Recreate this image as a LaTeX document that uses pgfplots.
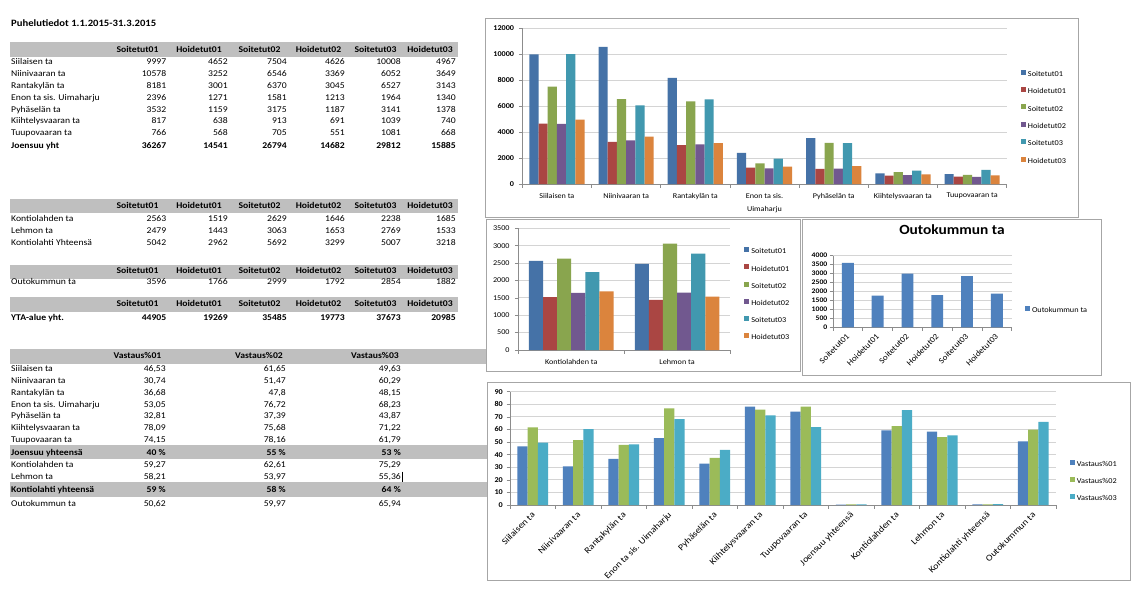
\documentclass[border=0pt]{standalone}
\usepackage{fontspec}
\setmainfont{Carlito}[FakeStretch=1.1]
\usepackage{pgfplots}
\pgfplotsset{compat=1.18}

\definecolor{s1}{HTML}{4572A7}
\definecolor{s2}{HTML}{AA4643}
\definecolor{s3}{HTML}{89A54E}
\definecolor{s4}{HTML}{71588F}
\definecolor{s5}{HTML}{4198AF}
\definecolor{s6}{HTML}{DB843D}
\definecolor{b1}{HTML}{4F81BD}
\definecolor{b2}{HTML}{9BBB59}
\definecolor{b3}{HTML}{4BACC6}
\definecolor{band}{HTML}{BFBFBF}
\definecolor{gridc}{HTML}{D4D4D4}
\definecolor{axc}{HTML}{8C8C8C}
\definecolor{framec}{HTML}{A6A6A6}

\newcommand\fs[2]{\fontsize{#1}{#2}\selectfont}
\newcommand\tfont{\fs{8.8}{10}}
\let\tb\relax

% table helpers (coordinates: x right, y down, in pt)
\newcommand\headsix[1]{%
  \foreach \cx/\tx in {137.5/Soitetut01,199/Hoidetut01,259.5/Soitetut02,318.5/Hoidetut02,375.5/Soitetut03,430/Hoidetut03}
    {\node[anchor=base,inner sep=0pt,font=\bfseries\tfont] at (\cx,#1+2.8) {\tx};}}
\newcommand\rowsix[8]{%
  \node[anchor=base west,inner sep=0pt,font=\tfont] at (11,#1+2.8) {\tb #2};
  \node[anchor=base east,inner sep=0pt,font=\tfont] at (166.5,#1+2.8) {\tb #3};
  \node[anchor=base east,inner sep=0pt,font=\tfont] at (228,#1+2.8) {\tb #4};
  \node[anchor=base east,inner sep=0pt,font=\tfont] at (287,#1+2.8) {\tb #5};
  \node[anchor=base east,inner sep=0pt,font=\tfont] at (345,#1+2.8) {\tb #6};
  \node[anchor=base east,inner sep=0pt,font=\tfont] at (401,#1+2.8) {\tb #7};
  \node[anchor=base east,inner sep=0pt,font=\tfont] at (456,#1+2.8) {\tb #8};}
\newcommand\rowthree[5]{%
  \node[anchor=base west,inner sep=0pt,font=\tfont] at (11,#1+2.8) {\tb #2};
  \node[anchor=base east,inner sep=0pt,font=\tfont] at (166,#1+2.8) {\tb #3};
  \node[anchor=base east,inner sep=0pt,font=\tfont] at (286,#1+2.8) {\tb #4};
  \node[anchor=base east,inner sep=0pt,font=\tfont] at (401,#1+2.8) {\tb #5};}

\pgfplotsset{
  excel/.style={
    scale only axis, anchor=south west, ybar=0pt,
    axis x line*=bottom, axis y line*=left,
    axis line style={draw=axc, line width=0.6pt, -},
    ymajorgrids, grid style={draw=gridc, line width=1pt},
    tick align=outside, major tick length=3.5pt, minor tick length=3.5pt,
    ytick style={draw=axc, line width=0.6pt},
    major x tick style={draw=none},
    minor x tick style={draw=axc, line width=0.6pt},
    scaled y ticks=false,
    /pgf/number format/1000 sep={},
    /pgf/number format/assume math mode=true,
    yticklabel style={inner sep=0pt, font=\bfseries\fs{7.4}{9}, xshift=-4.5pt},
    xticklabel style={inner sep=0pt, font=\fs{7.4}{13.5}, align=center, yshift=-5.5pt},
    legend image code/.code={\fill[##1] (0pt,-0.3pt) rectangle (5pt,4.7pt);},
    legend cell align=left,
    legend style={draw=none, fill=none, inner sep=0pt, outer sep=0pt, anchor=west,
      font=\fs{7.5}{9}, row sep=9.2pt,
      nodes={inner sep=0pt, text height=5.4pt, text depth=1.6pt},
      /tikz/every odd column/.append style={column sep=2pt}},
  }
}

\begin{document}
\begin{tikzpicture}
\begin{scope}[x=1pt,y=-1pt]
\path (0,0) rectangle (1139,594);
\node[anchor=base west,inner sep=0pt,font=\bfseries\fs{9.7}{11}] at (11,27) {Puhelutiedot 1.1.2015-31.3.2015};

% table 1
\fill[band] (10,42.3) rectangle (458,56.7);
\headsix{50}
\rowsix{61.7}{Siilaisen ta}{9997}{4652}{7504}{4626}{10008}{4967}
\rowsix{73.3}{Niinivaaran ta}{10578}{3252}{6546}{3369}{6052}{3649}
\rowsix{85.5}{Rantakylän ta}{8181}{3001}{6370}{3045}{6527}{3143}
\rowsix{97.5}{Enon ta sis. Uimaharju}{2396}{1271}{1581}{1213}{1964}{1340}
\rowsix{109.2}{Pyhäselän ta}{3532}{1159}{3175}{1187}{3141}{1378}
\rowsix{120.8}{Kiihtelysvaaran ta}{817}{638}{913}{691}{1039}{740}
\rowsix{132.7}{Tuupovaaran ta}{766}{568}{705}{551}{1081}{668}
\begingroup\def\tb{\bfseries}
\rowsix{145.5}{Joensuu yht}{36267}{14541}{26794}{14682}{29812}{15885}
\endgroup

% table 2
\fill[band] (10,199.2) rectangle (458,213.3);
\headsix{206}
\rowsix{218.3}{Kontiolahden ta}{2563}{1519}{2629}{1646}{2238}{1685}
\rowsix{230.6}{Lehmon ta}{2479}{1443}{3063}{1653}{2769}{1533}
\rowsix{242.3}{Kontiolahti Yhteensä}{5042}{2962}{5692}{3299}{5007}{3218}

% table 3
\fill[band] (10,265) rectangle (458,279.3);
\headsix{270.8}
\rowsix{281.5}{Outokummun ta}{3596}{1766}{2999}{1792}{2854}{1882}

% table 4
\fill[band] (10,297.3) rectangle (458,311.7);
\headsix{303.8}
\begingroup\def\tb{\bfseries}
\rowsix{317.7}{YTA-alue yht.}{44905}{19269}{35485}{19773}{37673}{20985}
\endgroup

% table 5
\fill[band] (10,349.3) rectangle (487,364);
\foreach \cx/\tx in {137.5/Vastaus\%01,259/Vastaus\%02,375/Vastaus\%03}
  {\node[anchor=base,inner sep=0pt,font=\bfseries\tfont] at (\cx,356+2.8) {\tx};}
\rowthree{368.3}{Siilaisen ta}{46,53}{61,65}{49,63}
\rowthree{380.6}{Niinivaaran ta}{30,74}{51,47}{60,29}
\rowthree{392.3}{Rantakylän ta}{36,68}{47,8}{48,15}
\rowthree{404.3}{Enon ta sis. Uimaharju}{53,05}{76,72}{68,23}
\rowthree{416}{Pyhäselän ta}{32,81}{37,39}{43,87}
\rowthree{428}{Kiihtelysvaaran ta}{78,09}{75,68}{71,22}
\rowthree{439.7}{Tuupovaaran ta}{74,15}{78,16}{61,79}
\fill[band] (10,445) rectangle (487,459.3);
\begingroup\def\tb{\bfseries}
\rowthree{452.5}{Joensuu yhteensä}{40 \%}{55 \%}{53 \%}
\endgroup
\rowthree{465}{Kontiolahden ta}{59,27}{62,61}{75,29}
\rowthree{476.7}{Lehmon ta}{58,21}{53,97}{55,36}
\draw[line width=0.6pt] (402,471.5) -- (402,481.5);
\fill[band] (10,482.3) rectangle (487,496.7);
\begingroup\def\tb{\bfseries}
\rowthree{489.5}{Kontiolahti yhteensä}{59 \%}{58 \%}{64 \%}
\endgroup
\rowthree{503.3}{Outokummun ta}{50,62}{59,97}{65,94}

% chart frames
\filldraw[fill=white, draw=framec, line width=0.8pt] (485,18.3) rectangle (1078.3,217.3);
\filldraw[fill=white, draw=framec, line width=0.8pt] (486.7,219.3) rectangle (800,371.7);
\filldraw[fill=white, draw=framec, line width=0.8pt] (802.7,219.3) rectangle (1101.7,375);
\filldraw[fill=white, draw=framec, line width=0.8pt] (487.3,382.5) rectangle (1130.5,580.7);
\end{scope}

% ---------- top chart ----------
\begin{axis}[excel, at={(522.3pt,-184pt)}, width=484.4pt, height=155.7pt,
  xmin=-0.5, xmax=6.5, ymin=0, ymax=12000, ytick={0,2000,...,12000},
  xtick={0,...,6}, minor xtick={-0.5,0.5,...,6.5},
  xticklabels={Siilaisen ta, Niinivaaran ta, Rantakylän ta, {Enon ta sis.\\Uimaharju}, Pyhäselän ta, Kiihtelysvaaran ta, Tuupovaaran ta},
  bar width=9.2pt,
  legend style={at={(1.0295,0.429)}}]
\addplot[fill=s1, draw=none] coordinates {(0,9997) (1,10578) (2,8181) (3,2396) (4,3532) (5,817) (6,766)};
\addplot[fill=s2, draw=none] coordinates {(0,4652) (1,3252) (2,3001) (3,1271) (4,1159) (5,638) (6,568)};
\addplot[fill=s3, draw=none] coordinates {(0,7504) (1,6546) (2,6370) (3,1581) (4,3175) (5,913) (6,705)};
\addplot[fill=s4, draw=none] coordinates {(0,4626) (1,3369) (2,3045) (3,1213) (4,1187) (5,691) (6,551)};
\addplot[fill=s5, draw=none] coordinates {(0,10008) (1,6052) (2,6527) (3,1964) (4,3141) (5,1039) (6,1081)};
\addplot[fill=s6, draw=none] coordinates {(0,4967) (1,3649) (2,3143) (3,1340) (4,1378) (5,740) (6,668)};
\legend{Soitetut01,Hoidetut01,Soitetut02,Hoidetut02,Soitetut03,Hoidetut03}
\end{axis}

% ---------- Kontiolahti chart ----------
\begin{axis}[excel, at={(518.3pt,-350pt)}, width=211.7pt, height=121.7pt,
  xmin=-0.5, xmax=1.5, ymin=0, ymax=3500, ytick={0,500,...,3500},
  yticklabel style={font=\fs{7.4}{9}, xshift=-0.5pt},
  xticklabel style={yshift=-0.5pt},
  xtick={0,1}, minor xtick={-0.5,0.5,1.5},
  xticklabels={Kontiolahden ta, Lehmon ta},
  bar width=14.1pt,
  legend style={at={(1.0676,0.4577)}, row sep=9pt}]
\addplot[fill=s1, draw=none] coordinates {(0,2563) (1,2479)};
\addplot[fill=s2, draw=none] coordinates {(0,1519) (1,1443)};
\addplot[fill=s3, draw=none] coordinates {(0,2629) (1,3063)};
\addplot[fill=s4, draw=none] coordinates {(0,1646) (1,1653)};
\addplot[fill=s5, draw=none] coordinates {(0,2238) (1,2769)};
\addplot[fill=s6, draw=none] coordinates {(0,1685) (1,1533)};
\legend{Soitetut01,Hoidetut01,Soitetut02,Hoidetut02,Soitetut03,Hoidetut03}
\end{axis}

% ---------- Outokummun chart ----------
\begin{axis}[excel, at={(833pt,-327.3pt)}, width=178.7pt, height=71.6pt,
  xmin=-0.5, xmax=5.5, ymin=0, ymax=4000, ytick={0,500,...,4000},
  yticklabel style={font=\bfseries\fs{7}{8}, xshift=2.5pt},
  xtick={0,...,5}, minor xtick={-0.5,0.5,...,5.5},
  xticklabels={Soitetut01,Hoidetut01,Soitetut02,Hoidetut02,Soitetut03,Hoidetut03},
  xticklabel style={rotate=45, anchor=north east, font=\fs{8.2}{9}, yshift=4pt, xshift=1pt},
  bar width=11.9pt,
  title={Outokummun ta},
  title style={at={(0.666,1.279)}, anchor=center, inner sep=0pt, font=\bfseries\fs{14}{16}},
  legend style={at={(1.0744,0.2416)}}]
\addplot[fill=b1, draw=none] coordinates {(0,3596) (1,1766) (2,2999) (3,1792) (4,2854) (5,1882)};
\legend{Outokummun ta}
\end{axis}

% ---------- bottom chart ----------
\begin{axis}[excel, at={(510pt,-505pt)}, width=546pt, height=113.3pt,
  xmin=-0.5, xmax=11.5, ymin=0, ymax=90, ytick={0,10,...,90},
  yticklabel style={xshift=1pt},
  xtick={0,...,11}, minor xtick={-0.5,0.5,...,11.5},
  xticklabels={Siilaisen ta, Niinivaaran ta, Rantakylän ta, Enon ta sis. Uimaharju, Pyhäselän ta, Kiihtelysvaaran ta, Tuupovaaran ta, Joensuu yhteensä, Kontiolahden ta, Lehmon ta, Kontiolahti yhteensä, Outokummun ta},
  xticklabel style={rotate=45, anchor=north east, font=\fs{9}{10}, yshift=3.5pt, xshift=1pt},
  bar width=10.2pt,
  legend style={at={(1.0256,0.2118)}, row sep=9pt}]
\addplot[fill=b1, draw=none] coordinates {(0,46.53) (1,30.74) (2,36.68) (3,53.05) (4,32.81) (5,78.09) (6,74.15) (7,0.40) (8,59.27) (9,58.21) (10,0.59) (11,50.62)};
\addplot[fill=b2, draw=none] coordinates {(0,61.65) (1,51.47) (2,47.8) (3,76.72) (4,37.39) (5,75.68) (6,78.16) (7,0.55) (8,62.61) (9,53.97) (10,0.58) (11,59.97)};
\addplot[fill=b3, draw=none] coordinates {(0,49.63) (1,60.29) (2,48.15) (3,68.23) (4,43.87) (5,71.22) (6,61.79) (7,0.53) (8,75.29) (9,55.36) (10,0.64) (11,65.94)};
\legend{Vastaus\%01,Vastaus\%02,Vastaus\%03}
\end{axis}
\end{tikzpicture}
\end{document}
